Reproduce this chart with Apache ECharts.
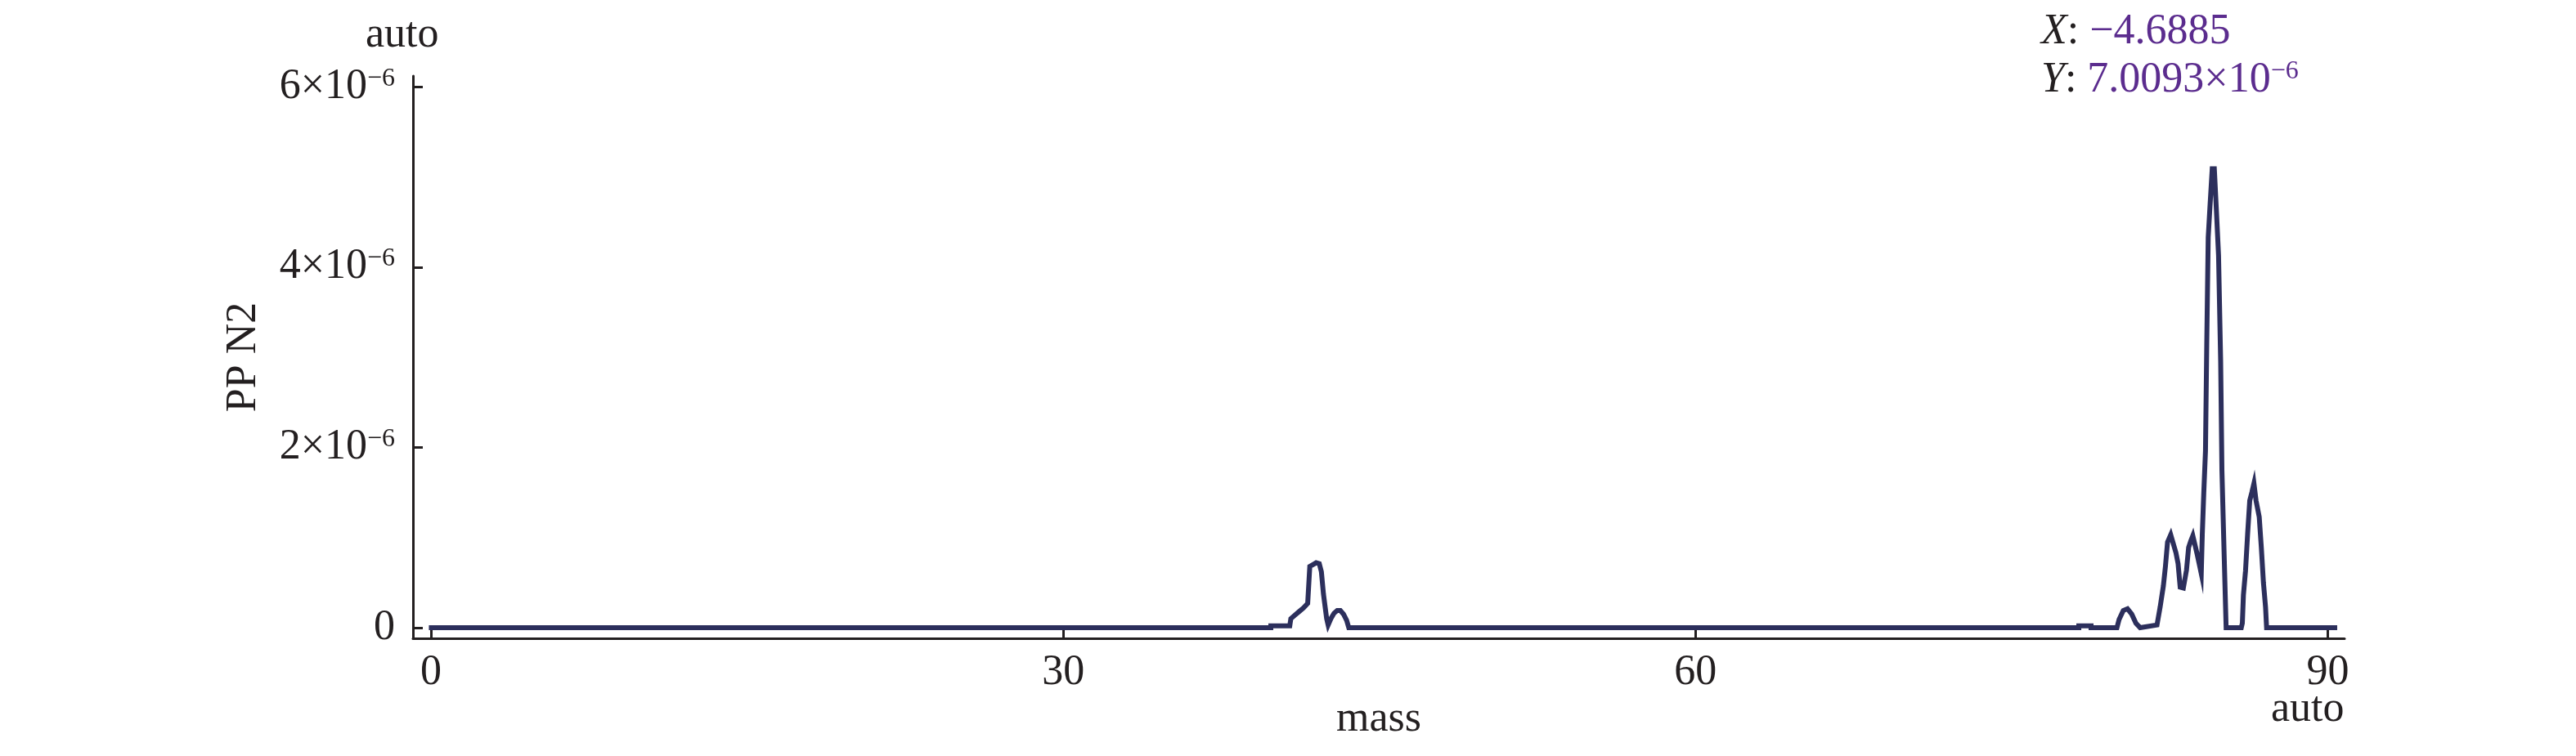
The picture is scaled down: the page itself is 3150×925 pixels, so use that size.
<!DOCTYPE html>
<html>
<head>
<meta charset="utf-8">
<script src="https://cdn.jsdelivr.net/npm/echarts@6/dist/echarts.min.js"></script>
<style>
html,body{margin:0;padding:0;background:#fff;}
#chart{width:3150px;height:925px;}
</style>
</head>
<body>
<div id="chart"></div>
<script>
// ---- data ----
const mass = [
  -0.1, 39.85, 39.85, 40.75, 40.8, 41.0, 41.2, 41.4, 41.6, 41.7, 41.85, 42.0, 42.15, 42.25, 42.35, 42.5, 42.57,
  42.7, 42.85, 43.0, 43.15, 43.3, 43.45, 43.55,
  78.19, 78.19, 78.77, 78.77,
  80.0, 80.1, 80.3, 80.5, 80.7, 80.9, 81.1,
  81.9, 82.05, 82.2, 82.3, 82.4, 82.55, 82.65, 82.8, 82.9, 83.0, 83.15, 83.3, 83.4, 83.5, 83.6, 83.7, 83.8, 83.9, 84.0,
  84.05, 84.12, 84.2, 84.26, 84.33, 84.42, 84.52, 84.62, 84.72, 84.82, 84.92, 84.98, 85.08, 85.18,
  85.9, 85.95, 86.0, 86.1, 86.2, 86.3, 86.4, 86.5, 86.6, 86.75, 86.85, 86.95, 87.05, 87.1,
  90.45
];
const ppN2 = [
  0, 0, 0.02e-6, 0.02e-6, 0.10e-6, 0.14e-6, 0.18e-6, 0.22e-6, 0.27e-6, 0.68e-6, 0.70e-6, 0.72e-6, 0.71e-6, 0.62e-6, 0.37e-6, 0.10e-6, 0.03e-6,
  0.10e-6, 0.16e-6, 0.19e-6, 0.19e-6, 0.15e-6, 0.08e-6, 0,
  0, 0.02e-6, 0.02e-6, 0,
  0, 0.09e-6, 0.19e-6, 0.21e-6, 0.15e-6, 0.05e-6, 0,
  0.03e-6, 0.23e-6, 0.46e-6, 0.68e-6, 0.95e-6, 1.03e-6, 0.95e-6, 0.83e-6, 0.71e-6, 0.45e-6, 0.44e-6, 0.64e-6, 0.89e-6, 0.96e-6, 1.02e-6, 0.92e-6, 0.82e-6, 0.71e-6, 0.60e-6,
  1.04e-6, 1.50e-6, 1.96e-6, 3.13e-6, 4.33e-6, 4.70e-6, 5.09e-6, 5.09e-6, 4.62e-6, 4.13e-6, 2.96e-6, 1.75e-6, 0.86e-6, 0,
  0, 0.05e-6, 0.36e-6, 0.63e-6, 1.04e-6, 1.41e-6, 1.50e-6, 1.60e-6, 1.41e-6, 1.23e-6, 0.89e-6, 0.50e-6, 0.23e-6, 0,
  0
];
const xTickValues = [0, 30, 60, 90];
const xTickLabels = ['0', '30', '60', '90'];
const yTickValues = [0, 2e-6, 4e-6, 6e-6];
const yTickLabels = ['0', '2×10{s|−6}', '4×10{s|−6}', '6×10{s|−6}'];
const xAxisName = 'mass';
const yAxisName = 'PP N2';
const cornerLabel = 'auto';
const readoutX = '−4.6885';
const readoutY = '7.0093×10';
const readoutYExp = '−6';

// ---- styling ----
const FONT = '"Liberation Serif", "Times New Roman", serif';
const INK = '#231f20';
const LINE = '#2c2f5c';
const PURPLE = '#5b2c8e';

const chart = echarts.init(document.getElementById('chart'), null, {renderer: 'canvas'});
const seriesData = mass.map((m, i) => [m, ppN2[i]]);

chart.setOption({
  animation: false,
  backgroundColor: '#ffffff',
  textStyle: {fontFamily: FONT},
  grid: {left: 505, right: 283, top: 93, bottom: 144, containLabel: false},
  xAxis: {
    type: 'value',
    min: -0.854,
    max: 90.8,
    name: xAxisName,
    nameLocation: 'middle',
    nameGap: 71,
    nameTextStyle: {fontFamily: FONT, fontSize: 52, color: INK, lineHeight: 52},
    axisLine: {show: true, onZero: false, lineStyle: {color: INK, width: 3}},
    axisTick: {show: true, inside: true, length: 12, lineStyle: {color: INK, width: 3}, customValues: xTickValues},
    axisLabel: {
      show: true, margin: 16, fontFamily: FONT, fontSize: 52, color: INK, lineHeight: 52,
      customValues: xTickValues,
      formatter: v => xTickLabels[xTickValues.indexOf(v)] ?? ''
    },
    splitLine: {show: false}
  },
  yAxis: {
    type: 'value',
    min: -0.118e-6,
    max: 6.12e-6,
    name: yAxisName,
    nameLocation: 'middle',
    nameGap: 181,
    nameRotate: 90,
    nameTextStyle: {fontFamily: FONT, fontSize: 52, color: INK, lineHeight: 52},
    axisLine: {show: true, onZero: false, lineStyle: {color: INK, width: 3}},
    axisTick: {show: true, inside: true, length: 12, lineStyle: {color: INK, width: 3}, customValues: yTickValues},
    axisLabel: {
      show: true, margin: 22, fontFamily: FONT, fontSize: 52, color: INK, lineHeight: 52,
      customValues: yTickValues,
      formatter: v => {
        let best = 0, d = Infinity;
        yTickValues.forEach((t, i) => { if (Math.abs(t - v) < d) { d = Math.abs(t - v); best = i; } });
        return yTickLabels[best];
      },
      rich: {
        s: {fontFamily: FONT, fontSize: 32, color: INK, verticalAlign: 'top', lineHeight: 38}
      }
    },
    splitLine: {show: false}
  },
  series: [{
    type: 'line',
    data: seriesData,
    showSymbol: false,
    symbol: 'none',
    smooth: false,
    lineStyle: {color: LINE, width: 6, join: 'miter', cap: 'butt'},
    clip: true
  }],
  graphic: [
    {
      type: 'text', left: 447, top: 17,
      style: {text: cornerLabel, font: '52px ' + FONT, fill: INK}
    },
    {
      type: 'text', left: 2777, top: 842,
      style: {text: cornerLabel, font: '52px ' + FONT, fill: INK}
    },
    {
      type: 'text', left: 2496, top: 13,
      style: {
        text: '{i|X}{c|: }{v|' + readoutX + '}',
        font: '52px ' + FONT,
        rich: {
          i: {fontFamily: FONT, fontSize: 52, fontStyle: 'italic', fill: INK, lineHeight: 52},
          c: {fontFamily: FONT, fontSize: 52, fill: INK, lineHeight: 52},
          v: {fontFamily: FONT, fontSize: 52, fill: PURPLE, lineHeight: 52}
        }
      }
    },
    {
      type: 'text', left: 2496, top: 72,
      style: {
        text: '{i|Y}{c|: }{v|' + readoutY + '}{s|' + readoutYExp + '}',
        font: '52px ' + FONT,
        rich: {
          i: {fontFamily: FONT, fontSize: 52, fontStyle: 'italic', fill: INK, lineHeight: 52},
          c: {fontFamily: FONT, fontSize: 52, fill: INK, lineHeight: 52},
          v: {fontFamily: FONT, fontSize: 52, fill: PURPLE, lineHeight: 52},
          s: {fontFamily: FONT, fontSize: 32, fill: PURPLE, verticalAlign: 'top', lineHeight: 38}
        }
      }
    }
  ]
});
</script>
</body>
</html>
